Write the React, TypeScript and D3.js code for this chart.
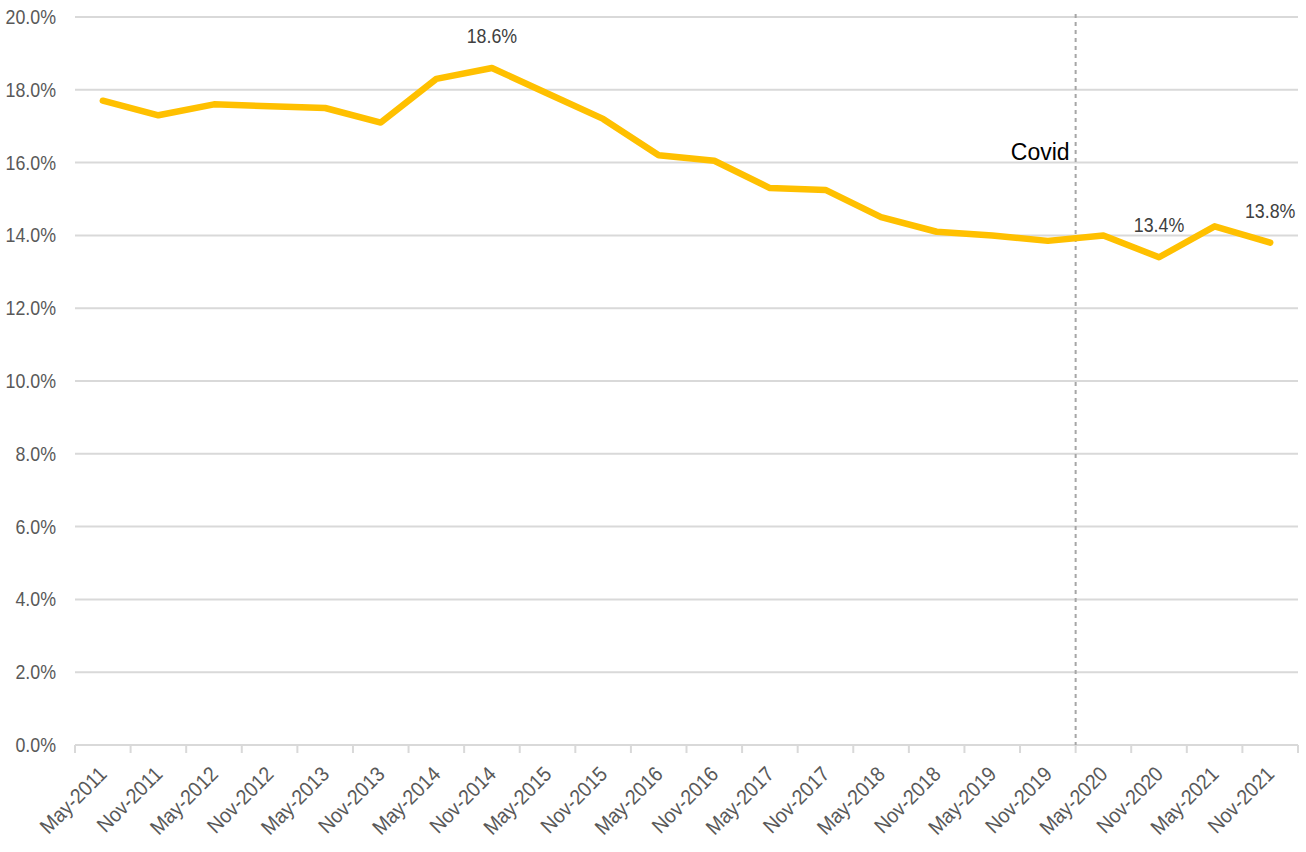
import * as d3 from 'd3';

const periods = [
  'May-2011', 'Nov-2011', 'May-2012', 'Nov-2012', 'May-2013', 'Nov-2013',
  'May-2014', 'Nov-2014', 'May-2015', 'Nov-2015', 'May-2016', 'Nov-2016',
  'May-2017', 'Nov-2017', 'May-2018', 'Nov-2018', 'May-2019', 'Nov-2019',
  'May-2020', 'Nov-2020', 'May-2021', 'Nov-2021',
];

const rates = [
  17.7, 17.3, 17.6, 17.55, 17.5, 17.1,
  18.3, 18.6, 17.9, 17.2, 16.2, 16.05,
  15.3, 15.25, 14.5, 14.1, 14.0, 13.85,
  14.0, 13.4, 14.25, 13.8,
];

const yTicks = [0, 2, 4, 6, 8, 10, 12, 14, 16, 18, 20];

const labelled = ['Nov-2014', 'Nov-2020', 'Nov-2021'];
const covidStart = 'May-2020';

const width = 1306;
const height = 852;
const margin = { top: 17, right: 8, bottom: 107, left: 75 };
// no narrow font installed, so squeeze Liberation Sans a bit to get Calibri-like widths
const axisFont = '"Liberation Sans", Arial, sans-serif';
const squeeze = 0.89;

export default function App() {
  const x = d3
    .scaleBand<string>()
    .domain(periods)
    .range([margin.left, width - margin.right])
    .padding(0);
  const y = d3
    .scaleLinear()
    .domain([0, 20])
    .range([height - margin.bottom, margin.top]);

  const rows = periods.map((p, i) => ({ period: p, value: rates[i] }));
  const cx = (p: string) => (x(p) ?? 0) + x.bandwidth() / 2;

  const line = d3
    .line<{ period: string; value: number }>()
    .x((d) => cx(d.period))
    .y((d) => y(d.value));

  const bottom = y(0);
  const boundaries = periods.map((p) => x(p) ?? 0).concat([x.range()[1]]);
  const covidX = x(covidStart) ?? 0;

  return (
    <svg
      width={width}
      height={height}
      style={{ position: 'absolute', left: 0, top: 0, display: 'block', background: '#fff' }}
    >
      {yTicks.map((t) => (
        <g key={t}>
          <line
            x1={margin.left}
            x2={width - margin.right}
            y1={y(t)}
            y2={y(t)}
            stroke="#d9d9d9"
            strokeWidth={2}
          />
          <text
            transform={`translate(56,${y(t)}) scale(${squeeze},1)`}
            dy="0.35em"
            textAnchor="end"
            fill="#595959"
            fontSize={20}
            fontFamily={axisFont}
          >
            {`${t.toFixed(1)}%`}
          </text>
        </g>
      ))}

      {boundaries.map((bx, i) => (
        <line key={i} x1={bx} x2={bx} y1={bottom} y2={bottom + 8} stroke="#d9d9d9" strokeWidth={2} />
      ))}

      {periods.map((p) => (
        <text
          key={p}
          transform={`translate(${cx(p) - 5},${bottom + 20}) rotate(-45) scale(0.92,1)`}
          textAnchor="end"
          dy="0.7em"
          fill="#595959"
          fontSize={21}
          fontFamily={axisFont}
        >
          {p}
        </text>
      ))}

      <line
        x1={covidX}
        x2={covidX}
        y1={14}
        y2={bottom}
        stroke="#a6a6a6"
        strokeWidth={2}
        strokeDasharray="4 4"
      />
      <text
        x={covidX - 6}
        y={160}
        textAnchor="end"
        fill="#000"
        fontSize={23}
        fontFamily='"Liberation Sans", Arial, sans-serif'
      >
        Covid
      </text>

      <path
        d={line(rows) ?? ''}
        fill="none"
        stroke="#ffc000"
        strokeWidth={6.5}
        strokeLinejoin="round"
        strokeLinecap="round"
      />

      {rows
        .filter((r) => labelled.includes(r.period))
        .map((r) => (
          <text
            key={r.period}
            transform={`translate(${cx(r.period)},${y(r.value) - 25}) scale(${squeeze},1)`}
            textAnchor="middle"
            fill="#404040"
            fontSize={20}
            fontFamily={axisFont}
          >
            {`${r.value.toFixed(1)}%`}
          </text>
        ))}
    </svg>
  );
}
